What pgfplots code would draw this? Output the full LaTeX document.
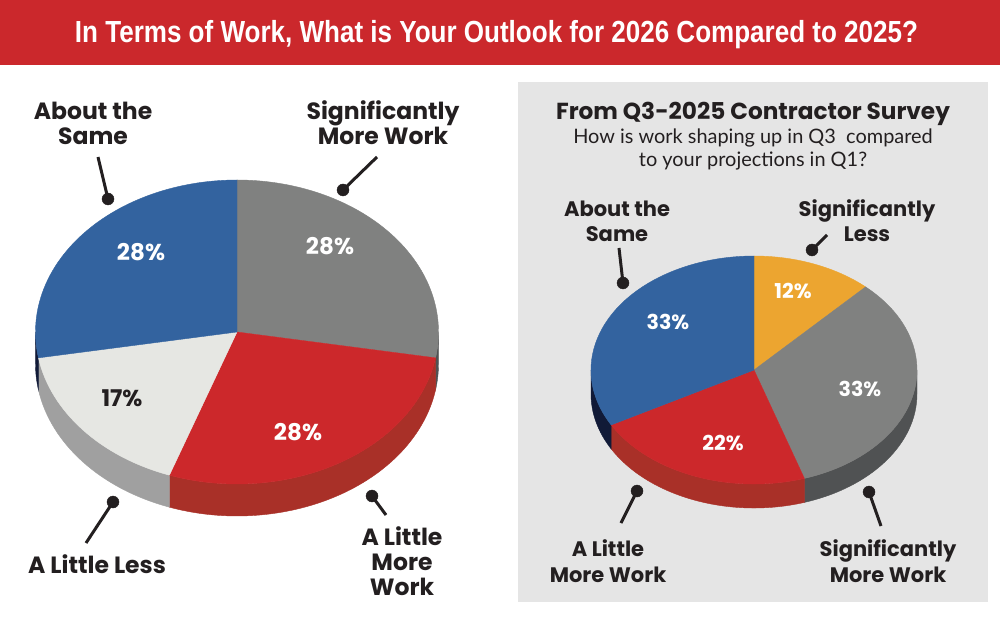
\documentclass[border=0pt]{standalone}
\usepackage{fontspec}
\setmainfont{Lato}
\newfontfamily\labelfont{Poppins}
\newfontfamily\titlefont{Liberation Sans}
\usepackage{graphicx}
\usepackage{pgfplots}
\pgfplotsset{compat=1.18}

\definecolor{bandred}{HTML}{CB282C}
\definecolor{ink}{HTML}{231F20}
\definecolor{panelgray}{HTML}{E5E5E5}
\definecolor{sliceblue}{HTML}{33639F}
\definecolor{sliceblueside}{HTML}{111A37}
\definecolor{slicegray}{HTML}{808180}
\definecolor{slicegrayside}{HTML}{505253}
\definecolor{slicered}{HTML}{CC282B}
\definecolor{sliceredside}{HTML}{A93028}
\definecolor{slicewhite}{HTML}{E6E7E3}
\definecolor{slicewhiteside}{HTML}{A0A0A0}
\definecolor{sliceorange}{HTML}{ECA530}

% Shares (percent) -- 2026 outlook
\def\LsigMore{28}  % Significantly More Work
\def\LlitMore{28}  % A Little More Work
\def\LlitLess{17}  % A Little Less
\def\Lsame{28}     % About the Same
% Shares (percent) -- Q3-2025 contractor survey
\def\RsigLess{12}  % Significantly Less
\def\RsigMore{33}  % Significantly More Work
\def\RlitMore{22}  % A Little More Work
\def\Rsame{33}     % About the Same

% top face of one slice: colour, cx, cy, rx, ry, from angle, to angle
\newcommand{\slicetop}[7]{%
  \fill[#1, draw=#1, line width=0.4bp] (axis cs:#2,#3) -- ++(#6:#4bp and #5bp)
    arc[start angle=#6, end angle=#7, x radius=#4bp, y radius=#5bp] -- cycle;}
% visible wall of one slice: colour, cx, cy, rx, ry, depth, from, to
\newcommand{\sliceside}[8]{%
  \fill[#1, draw=#1, line width=0.4bp] (axis cs:#2,#3) ++(#7:#4bp and #5bp)
    arc[start angle=#7, end angle=#8, x radius=#4bp, y radius=#5bp]
    -- ++(0,-#6bp)
    arc[start angle=#8, end angle=#7, x radius=#4bp, y radius=#5bp] -- cycle;}
% one line of label text
\newcommand{\lbl}[4][23.5]{%
  \node[anchor=base, text=ink, inner sep=0pt,
        font=\labelfont\fontsize{#1bp}{#1bp}\selectfont\bfseries] at (axis cs:#2,#3) {#4};}
\newcommand{\pct}[5]{%
  \node[anchor=center, text=#4, inner sep=0pt,
        font=\labelfont\fontsize{#1bp}{#1bp}\selectfont\bfseries] at (axis cs:#2,#3) {#5\%};}
% condensed headline
\newcommand{\headline}{\titlefont\bfseries\fontsize{30.5bp}{30.5bp}\selectfont
  In Terms of Work, What is Your Outlook for 2026 Compared to 2025?}
\newlength{\headw}

\begin{document}%
\settowidth{\headw}{\headline}%
\pgfmathsetmacro{\headsx}{846.16/\headw}%
\begin{tikzpicture}
% slice boundaries, clockwise from 12 o'clock
\pgfmathsetmacro{\Ltot}{\LsigMore+\LlitMore+\LlitLess+\Lsame}
\pgfmathsetmacro{\La}{90}
\pgfmathsetmacro{\Lb}{\La-360*\LsigMore/\Ltot}
\pgfmathsetmacro{\Lc}{\Lb-360*\LlitMore/\Ltot}
\pgfmathsetmacro{\Ld}{\Lc-360*\LlitLess/\Ltot}
\pgfmathsetmacro{\Le}{\Ld-360*\Lsame/\Ltot}
\pgfmathsetmacro{\Rtot}{\RsigLess+\RsigMore+\RlitMore+\Rsame}
\pgfmathsetmacro{\Ra}{90}
\pgfmathsetmacro{\Rb}{\Ra-360*\RsigLess/\Rtot}
\pgfmathsetmacro{\Rc}{\Rb-360*\RsigMore/\Rtot}
\pgfmathsetmacro{\Rd}{\Rc-360*\RlitMore/\Rtot}
\pgfmathsetmacro{\Re}{\Rd-360*\Rsame/\Rtot}
\begin{axis}[
  scale only axis, width=1000bp, height=618bp,
  xmin=0, xmax=1000, ymin=0, ymax=618,
  hide axis, clip=false]

\fill[white] (axis cs:0,0) rectangle (axis cs:1000,618);
\fill[bandred] (axis cs:0,553) rectangle (axis cs:1000,618);
\node[anchor=base, text=white, inner sep=0pt] at (axis cs:496.5,575)
  {\scalebox{\headsx}[1]{\headline}};
\fill[panelgray] (axis cs:518,16) rectangle (axis cs:988,536);

% ---- left pie: walls, then top faces
\sliceside{slicegrayside}{237}{286}{201.5}{152}{32}{0}{\Lb}
\sliceside{sliceredside}{237}{286}{201.5}{152}{32}{\Lb}{\Lc}
\sliceside{slicewhiteside}{237}{286}{201.5}{152}{32}{\Lc}{\Ld}
\sliceside{sliceblueside}{237}{286}{201.5}{152}{32}{\Ld}{-180}
\slicetop{slicegray}{237}{286}{201.5}{152}{\La}{\Lb}
\slicetop{slicered}{237}{286}{201.5}{152}{\Lb}{\Lc}
\slicetop{slicewhite}{237}{286}{201.5}{152}{\Lc}{\Ld}
\slicetop{sliceblue}{237}{286}{201.5}{152}{\Ld}{\Le}

% ---- right pie
\sliceside{slicegrayside}{754}{248}{163}{114}{24}{0}{\Rc}
\sliceside{sliceredside}{754}{248}{163}{114}{24}{\Rc}{\Rd}
\sliceside{sliceblueside}{754}{248}{163}{114}{24}{\Rd}{-180}
\slicetop{sliceorange}{754}{248}{163}{114}{\Ra}{\Rb}
\slicetop{slicegray}{754}{248}{163}{114}{\Rb}{\Rc}
\slicetop{slicered}{754}{248}{163}{114}{\Rc}{\Rd}
\slicetop{sliceblue}{754}{248}{163}{114}{\Rd}{\Re}

% ---- leader lines (dot at the slice end)
\pgfplotsset{leader/.style={ink, line width=3bp, mark=*, mark size=6bp,
  mark indices={1}, mark options={fill=ink, draw=ink, line width=0.4bp}}}
\addplot[leader] coordinates {(108,419) (98,461)};
\addplot[leader] coordinates {(343,428) (377,461)};
\addplot[leader] coordinates {(113,116) (86,75)};
\addplot[leader] coordinates {(372,122) (386,103)};
\addplot[leader] coordinates {(623,335) (619,370)};
\addplot[leader] coordinates {(812,368) (827,383)};
\addplot[leader] coordinates {(637,127) (621,95)};
\addplot[leader] coordinates {(869,126) (881,92)};

% ---- percentages
\pct{23}{141}{366}{white}{\Lsame}
\pct{23}{330}{372}{white}{\LsigMore}
\pct{23}{122}{220}{ink}{\LlitLess}
\pct{23}{298}{186}{white}{\LlitMore}
\pct{20.5}{793}{327}{white}{\RsigLess}
\pct{20.5}{668}{296}{white}{\Rsame}
\pct{20.5}{860}{229}{white}{\RsigMore}
\pct{20.5}{723}{175}{white}{\RlitMore}

% ---- category labels, left
\lbl{93}{498}{About the}
\lbl{93}{473}{Same}
\lbl{383}{498}{Significantly}
\lbl{383}{473}{More Work}
\lbl{97}{44.5}{A Little Less}
\lbl{402}{72.5}{A Little}
\lbl{402}{47.5}{More}
\lbl{402}{22.5}{Work}

% ---- right panel heading
\lbl[23.2]{753}{498}{From Q3-2025 Contractor Survey}
\node[anchor=base, text=ink, inner sep=0pt, font=\fontsize{20}{20}\selectfont]
  at (axis cs:753,474) {How is work shaping up in Q3\ \ compared};
\node[anchor=base, text=ink, inner sep=0pt, font=\fontsize{20}{20}\selectfont]
  at (axis cs:753,451) {to your projections in Q1?};

% ---- category labels, right
\lbl[21]{617}{401.5}{About the}
\lbl[21]{617}{376.5}{Same}
\lbl[21]{867}{401.5}{Significantly}
\lbl[21]{867}{376.5}{Less}
\lbl[21]{608}{61.5}{A Little}
\lbl[21]{608}{35.5}{More Work}
\lbl[21]{888}{61.5}{Significantly}
\lbl[21]{888}{35.5}{More Work}
\end{axis}
\end{tikzpicture}%
\end{document}
